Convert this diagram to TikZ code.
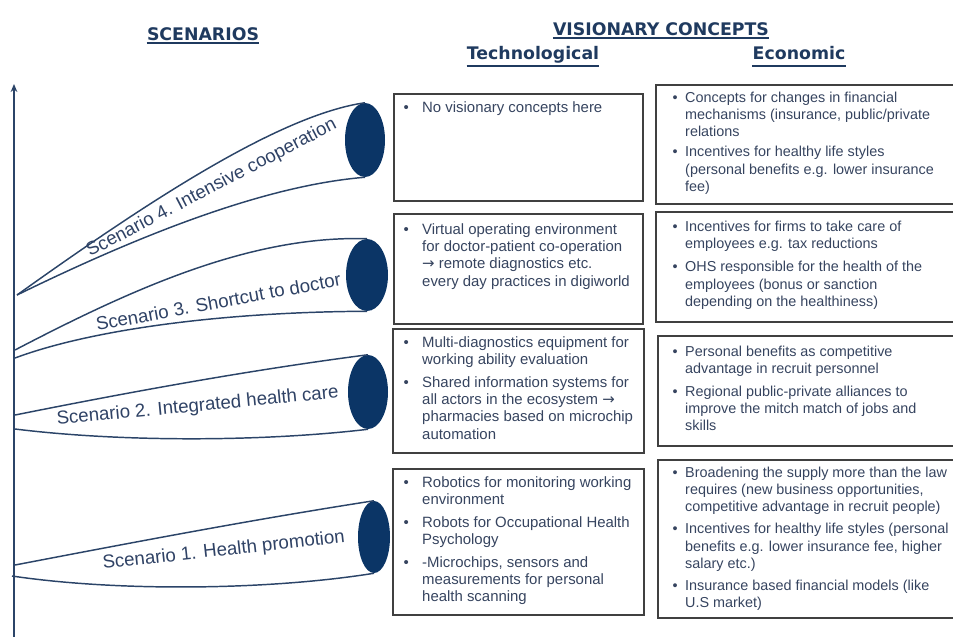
\documentclass[tikz,border=0pt]{standalone}
\usepackage{fontspec}
\setmainfont{Liberation Sans}
\setsansfont{Liberation Sans}
\newfontfamily\headfont{DejaVu Sans}
\newfontfamily\arrowfont{DejaVu Sans}
\usetikzlibrary{shapes.geometric,fit,arrows.meta}

\definecolor{navy}{HTML}{0B3566}
\definecolor{lineblue}{HTML}{2B4468}
\definecolor{headblue}{HTML}{1F3A5F}
\definecolor{scblue}{HTML}{2F4265}
\definecolor{txtblue}{HTML}{36445F}
\definecolor{boxgray}{HTML}{404040}

\newcommand{\rarr}{{\arrowfont →}}

\begin{document}
\begin{tikzpicture}[x=0.75pt, y=-0.75pt, font=\sffamily,
	headline/.style={font=\headfont\bfseries\fontsize{13}{15}\selectfont, text=headblue, inner sep=0pt, anchor=base},
	uline/.style={headblue, line width=1.4pt},
	cbox/.style={draw=boxgray, line width=1.1pt, inner sep=0pt},
	ctext/.style={anchor=base west, inner sep=0pt, text=txtblue, font=\fontsize{11.2}{13}\selectfont},
	etext/.style={ctext, font=\fontsize{10.8}{13}\selectfont},
	funnel/.style={draw=lineblue, line width=1.1pt},
	cyl/.style={ellipse, fill=navy, draw=none, inner sep=0pt},
	sclabel/.style={anchor=base west, inner sep=0pt, text=scblue, font=\fontsize{14}{16}\selectfont}]
	\useasboundingbox (0,0) rectangle (953,636);
	\clip (0,0) rectangle (953,636);
	
	%axis
	\coordinate (axbot) at (14,640);
	\coordinate (axtop) at (14,84);
	\draw[lineblue, line width=1.5pt, -{Stealth[length=6pt,width=5pt]}] (axbot) -- (axtop);
	
	%headings
	\node[headline] (hscen) at (203,40) {SCENARIOS};
	\node[headline] (hvis) at (661,35) {VISIONARY CONCEPTS};
	\node[headline] (htech) at (533,59) {Technological};
	\node[headline] (hecon) at (799,59) {Economic};
	\draw[uline] ([yshift=-2.5pt]hscen.base west) -- ([yshift=-2.5pt]hscen.base east);
	\draw[uline] ([yshift=-2.5pt]hvis.base west) -- ([yshift=-2.5pt]hvis.base east);
	\draw[uline] ([yshift=-5.5pt]htech.base west) -- ([yshift=-5.5pt]htech.base east);
	\draw[uline] ([yshift=-5.5pt]hecon.base west) -- ([yshift=-5.5pt]hecon.base east);
	
	%scenario ends
	\node[cyl, minimum width=30pt, minimum height=55.5pt] (sc4) at (365,140) {};
	\node[cyl, minimum width=31.5pt, minimum height=54pt] (sc3) at (367,275) {};
	\node[cyl, minimum width=30pt, minimum height=55.5pt] (sc2) at (368,392) {};
	\node[cyl, minimum width=24pt, minimum height=54pt] (sc1) at (374,537) {};
	
	%funnels
	\coordinate (o4) at (17,295);
	\coordinate (o3u) at (15,350);
	\coordinate (o3l) at (15,358);
	\coordinate (o2u) at (15,415);
	\coordinate (o2l) at (15,429);
	\coordinate (o1u) at (15,565);
	\coordinate (o1l) at (12,576);
	\draw[funnel] (o4) .. controls (150,200) and (280,115) .. (sc4.north);
	\draw[funnel] (o4) .. controls (150,230) and (270,185) .. (sc4.south);
	\draw[funnel] (o3u) .. controls (130,290) and (250,235) .. (sc3.north);
	\draw[funnel] (o3l) .. controls (90,330) and (220,312) .. (sc3.south);
	\draw[funnel] (o2u) .. controls (130,392) and (250,370) .. (sc2.north);
	\draw[funnel] (o2l) .. controls (120,442) and (260,442) .. (sc2.south);
	\draw[funnel] (o1u) .. controls (130,543) and (250,520) .. (sc1.north);
	\draw[funnel] (o1l) .. controls (120,592) and (270,590) .. (sc1.south);
	
	%scenario labels
	\node[sclabel, rotate=27.5] (lab4) at (90,257) {Scenario 4. Intensive cooperation};
	\node[sclabel, rotate=10.5] (lab3) at (97,331) {Scenario 3. Shortcut to doctor};
	\node[sclabel, rotate=5.5] (lab2) at (57,425) {Scenario 2. Integrated health care};
	\node[sclabel, rotate=6.3] (lab1) at (103,569) {Scenario 1. Health promotion};
	
	%technological boxes
	\node[cbox, fit={(394,94) (643,201)}] (tech4) {};
	\node[cbox, fit={(394,214) (643,324)}] (tech3) {};
	\node[cbox, fit={(393,329) (644,453)}] (tech2) {};
	\node[cbox, fit={(393,469) (644,615)}] (tech1) {};
	
	\node[ctext] (tech4txt) at ([shift={(10,19)}]tech4.north west) {%
		\begin{tabular}[t]{@{}p{14pt}@{}l@{}}
			\textbullet & No visionary concepts here
	\end{tabular}};
	\node[ctext] (tech3txt) at ([shift={(10,21)}]tech3.north west) {%
		\begin{tabular}[t]{@{}p{14pt}@{}l@{}}
			\textbullet & Virtual operating environment\\
			& for doctor-patient co-operation\\
			& \rarr\ remote diagnostics etc.\\
			& every day practices in digiworld
	\end{tabular}};
	\node[ctext] (tech2txt) at ([shift={(11,19)}]tech2.north west) {%
		\begin{tabular}[t]{@{}p{14pt}@{}l@{}}
			\textbullet & Multi-diagnostics equipment for\\
			& working ability evaluation\\[4pt]
			\textbullet & Shared information systems for\\
			& all actors in the ecosystem \rarr\\
			& pharmacies based on microchip\\
			& automation
	\end{tabular}};
	\node[ctext] (tech1txt) at ([shift={(11,19)}]tech1.north west) {%
		\begin{tabular}[t]{@{}p{14pt}@{}l@{}}
			\textbullet & Robotics for monitoring working\\
			& environment\\[4pt]
			\textbullet & Robots for Occupational Health\\
			& Psychology\\[4pt]
			\textbullet & -Microchips, sensors and\\
			& measurements for personal\\
			& health scanning
	\end{tabular}};
	
	%economic boxes
	\node[cbox, fit={(656,85) (962,204)}] (econ4) {};
	\node[cbox, fit={(656,212) (962,322)}] (econ3) {};
	\node[cbox, fit={(658,336) (962,446)}] (econ2) {};
	\node[cbox, fit={(658,460) (962,618)}] (econ1) {};
	
	\node[etext] (econ4txt) at ([shift={(17,18)}]econ4.north west) {%
		\begin{tabular}[t]{@{}p{9.5pt}@{}l@{}}
			\textbullet & Concepts for changes in financial\\
			& mechanisms (insurance, public/private\\
			& relations\\[2pt]
			\textbullet & Incentives for healthy life styles\\
			& (personal benefits e.g. lower insurance\\
			& fee)
	\end{tabular}};
	\node[etext] (econ3txt) at ([shift={(17,20)}]econ3.north west) {%
		\begin{tabular}[t]{@{}p{9.5pt}@{}l@{}}
			\textbullet & Incentives for firms to take care of\\
			& employees e.g. tax reductions\\[4.5pt]
			\textbullet & OHS responsible for the health of the\\
			& employees (bonus or sanction\\
			& depending on the healthiness)
	\end{tabular}};
	\node[etext] (econ2txt) at ([shift={(15,21)}]econ2.north west) {%
		\begin{tabular}[t]{@{}p{9.5pt}@{}l@{}}
			\textbullet & Personal benefits as competitive\\
			& advantage in recruit personnel\\[4pt]
			\textbullet & Regional public-private alliances to\\
			& improve the mitch match of jobs and\\
			& skills
	\end{tabular}};
	\node[etext] (econ1txt) at ([shift={(15,18)}]econ1.north west) {%
		\begin{tabular}[t]{@{}p{9.5pt}@{}l@{}}
			\textbullet & Broadening the supply more than the law\\
			& requires (new business opportunities,\\
			& competitive advantage in recruit people)\\[3.5pt]
			\textbullet & Incentives for healthy life styles (personal\\
			& benefits e.g. lower insurance fee, higher\\
			& salary etc.)\\[3.5pt]
			\textbullet & Insurance based financial models (like\\
			& U.S market)
	\end{tabular}};
	
\end{tikzpicture}
\end{document}
